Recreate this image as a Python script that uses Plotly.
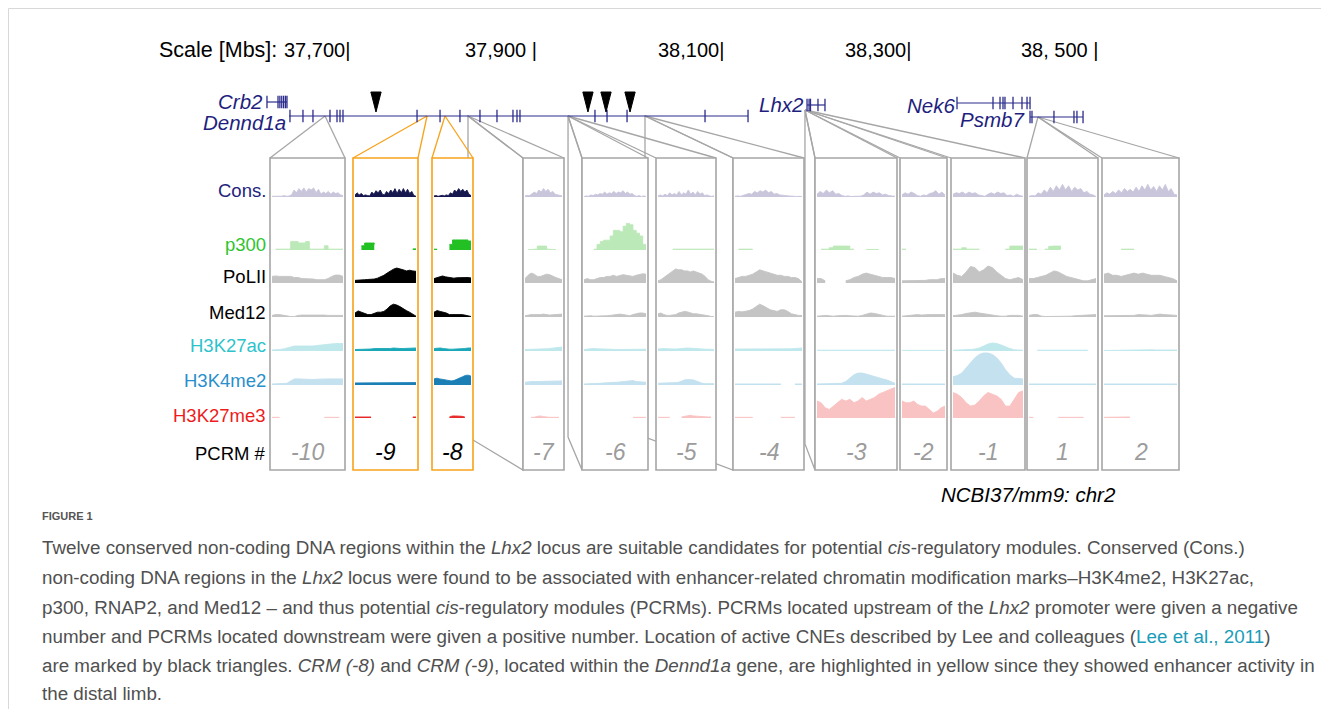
import plotly.graph_objects as go

W, H = 1329, 709

# ---------------- data ----------------
SCALE_TICKS_KB = [37700, 37900, 38100, 38300, 38500]
SCALE_TICK_LABELS = ["37,700|", "37,900 |", "38,100|", "38,300|", "38, 500 |"]

DENND1A_SPAN = [37634.8, 38125.7]
DENND1A_EXONS = [37635.8, 37649.7, 37660.4, 37678.6, 37686.1, 37689.3, 37692.5, 37771.7,
                 37796.3, 37817.6, 37839.0, 37857.2, 37874.3, 37878.6, 37881.8, 37962.0,
                 37974.9, 37996.3, 38079.7, 38125.7]
CRB2_SPAN = [37611.2, 37632.6]
CRB2_EXONS = [37611.2, 37623.0, 37625.0, 37627.0, 37629.0, 37631.0, 37632.6]
LHX2_SPAN = [38188.8, 38208.0]
LHX2_EXONS = [38188.8, 38191.0, 38192.5, 38200.5, 38208.0]
NEK6_SPAN = [38349.2, 38427.3]
NEK6_EXONS = [38349.2, 38387.7, 38395.2, 38398.4, 38400.5, 38409.1, 38418.7, 38424.1, 38427.3]
PSMB7_SPAN = [38427.3, 38484.0]
PSMB7_EXONS = [38427.3, 38429.4, 38452.9, 38474.3, 38477.5, 38484.0]
CNE_TRIANGLES_KB = [37727.8, 37954.5, 37973.8, 37999.5]

GENE_NAMES = ["Crb2", "Dennd1a", "Lhx2", "Nek6", "Psmb7"]
GENE_LABEL_KB = [37609.0, 37634.0, 38188.0, 38349.0, 38424.0]

PCRM_LABELS = ["-10", "-9", "-8", "-7", "-6", "-5", "-4", "-3", "-2", "-1", "1", "2"]
PCRM_ANCHOR_KB = [37673.3, 37782.4, 37801.6, 37826.2, 37933.2, 37933.2, 38015.5,
                  38186.6, 38186.6, 38186.6, 38435.8, 38435.8]
HIGHLIGHTED = ["-9", "-8"]

TRACK_NAMES = ["Cons.", "p300", "PoLII", "Med12", "H3K27ac", "H3K4me2", "H3K27me3"]

CONS = [
    [0.5, 0.5, 0.6, 0.4, 0.6, 1, 0.5, 0.8, 1.5, 5, 3, 6, 4, 6.5, 3.5, 6, 5, 6.5, 3, 5.5, 2, 3.5, 2.5, 4, 2, 3.5, 2.5, 3, 1.5, 1],
    [1.5, 3, 1.5, 2.5, 1, 1.5, 1, 0.8, 3.5, 2, 4.5, 3, 5, 2, 1.5, 4, 2.5, 5, 3, 6, 2.5, 5.5, 3, 6, 3, 5.5, 2.5, 4, 1, 0.5],
    [0.8, 1, 0.5, 0.8, 1.2, 0.8, 1.5, 1, 3, 2, 5, 3.5, 6, 4, 5.5, 3.5, 5, 2, 1],
    [0.8, 1.2, 1, 2, 3.5, 2.5, 5, 3.5, 6, 4, 5.5, 3, 4, 2, 1.5, 1, 0.8],
    [0.3, 0.8, 0.5, 1.5, 1, 2, 1.5, 2.5, 2, 3.5, 2, 3, 2.5, 4, 2.5, 3.5, 3, 4.5, 2.5, 3.5, 2, 2.5, 1, 0.5, 1, 0.3, 0.8, 0.3],
    [0.8, 1.5, 0.8, 2, 1, 3, 1.5, 2.5, 1.5, 4, 1.5, 3, 2, 5, 2, 3.5, 1.5, 4, 2, 3, 1, 1.5, 0.8, 0.5, 0.8],
    [0.5, 0.8, 0.5, 1, 1.5, 2.5, 2, 4, 3, 4.5, 3.5, 5, 3, 4, 2, 2.5, 1.5, 1.5, 1, 0.8, 0.5, 0.6, 0.4, 0.5, 0.3],
    [2, 4, 2.5, 5, 3, 4.5, 2, 2.5, 1, 0.5, 0.8, 0.3, 0.5, 0.3, 0.6, 1.5, 3.5, 2, 3.5, 2.5, 3, 1.5, 2, 1, 0.8, 0.5],
    [1.5, 3, 2, 3.5, 2.5, 1, 0.5, 1.5, 1, 2.5, 3, 4.5, 2, 3.5, 1.5],
    [2, 3, 2.5, 3.5, 2, 3.5, 2.5, 3, 1.5, 1, 0.5, 2, 3, 2, 3.5, 2.5, 3, 1, 1.5, 0.5, 2, 1, 0.5],
    [0.5, 1, 0.8, 3, 2, 5, 3, 7, 4, 8, 5, 9, 5, 8, 4, 7, 5, 6, 3, 4, 2, 1.5, 0.3],
    [1.5, 3, 2, 4, 2.5, 5, 3, 6, 4, 5.5, 3.5, 7, 4, 8, 5, 9, 5, 7.5, 4, 8, 5, 9, 4, 6, 2, 1.5],
]
P300 = [
    [None, 0.3, 0.3, 0.3, 0.3, 3, 3, 2.5, 2.5, 3, 0.3, 0.3, 0.3, 0.3, 1.5, 0.3, 0.3, 0.3, 0.3, 0.3],
    [None, None, 1.5, 2.5, 2.5, 2.5, 2, None, None, None, None, None, None, None, None, None, None, None, 0.4, 0.4],
    [0.3, 0.3, None, None, None, 2, 3.6, 3.6, 3.6, 3.6, 3.6, 3.2, 3],
    [None, 0.2, 0.2, 0.3, 1.4, 1.4, 1.4, 0.3, 0.2, 0.2, 0.2, None, None],
    [None, None, None, 0.3, 2, 3, 3.5, 3.5, 5, 7, 7, 6.5, 8.5, 9.5, 9, 7, 6, 5, 2, 0.5],
    [None, None, None, None, None, 0.3, 0.3, 0.3, 0.3, 0.3, 0.3, 0.3, 0.3, 0.3, 0.3, 0.3, 0.3, 0.3, 0.3, 0.3],
    [None, 0.3, 0.3, 0.3, 0.3, 0.3, None, None, None, None, None, None, None, None, None, None, None, None, None, None],
    [None, 0.3, 0.3, 0.8, 1.4, 1.4, 1.4, 1.4, 0.3, 0.3, None, None, 0.2, 0.2, 0.2, 0.2, None, None, None, None],
    [0.3, 0.3, None, None, None, None, None, None, None, None, None, None],
    [0.3, 0.3, 0.8, 0.3, 0.3, 0.3, 0.3, None, None, None, None, None, 0.3, 1.4, 1.4, 1.4, 0.3],
    [0.3, 0.3, 0.3, None, 0.3, 1.3, 1.4, 1.4, 0.3, None, None, None, None, None, None, None, None, None],
    [None, None, None, None, 0.3, 0.3, 0.3, 0.3, None, None, None, None, None, None, None, None, None, None],
]
POLII = [
    [3, 3.2, 3, 3, 2.8, 3, 2.5, 2.5, 2, 2, 1.8, 1.8, 1.5, 1.5, 1.5, 2, 3, 3.6, 3.6, 3],
    [1.2, 1.4, 1.4, 1.5, 1.6, 1.6, 1.8, 2.2, 2.8, 3.5, 4.5, 5.5, 6.3, 6.8, 6.5, 6, 5.5, 5.8, 5.5, 5.3],
    [2, 2.5, 3, 3.2, 2.8, 2.5, 2.5, 2.2, 2.4, 2.5, 2.6, 2.5, 2.5, 2.3],
    [2, 3.5, 4.5, 4, 3, 3, 3.5, 4, 3.8, 3, 2.5, 2, 1.5],
    [1.5, 2, 1.5, 1.5, 2, 2.5, 2.5, 3, 3, 3.5, 3, 3.5, 3.8, 3.5, 3.2, 3, 3.5, 4, 4.2, 4],
    [1, 1.5, 2.5, 3.5, 4.5, 5.5, 6.4, 6, 6, 5.5, 5.5, 5, 5.5, 5, 4.5, 4, 3, 1.5, 0.8, 0.5],
    [2, 2.5, 3, 3, 3.5, 4, 5, 6, 5.5, 5, 4.5, 4, 3.5, 3.5, 3, 3, 2.5, 2.5, 2, 0.5],
    [2, 2, 1, None, None, None, None, 1, 1.5, 2.5, 3, 4, 4.5, 4, 3.5, 3, 2.5, 2.5, 2.5, 2],
    [1, 1, 1, 1.2, 1.2, 1, 1.2, 1.5, 1.5, 1.5, 2, 2],
    [4.5, 3.5, 3, 5, 7.5, 7, 5, 6, 7.7, 7, 5, 3.5, 2, 1.5, 2, 2.5, 1.5],
    [2, 2, 2.5, 3, 3.5, 4.5, 5.5, 5, 4, 3, 2.5, 2, 1.5, 1, 1, 1.5, 2],
    [4, 4.5, 3.5, 3.5, 3, 3.5, 4, 4.5, 4, 4.5, 4, 3.5, 3.5, 3.5, 3, 2.5, 2, 1],
]
MED12 = [
    [1, 1.5, 1.5, 1, 0.5, 0.3, 0.3, 1, 1.2, 1.2, 1.5, 1.5, 1.5, 1.5, 1.2, 1, 1, 0.8, 1, 1],
    [2.5, 3.8, 3, 2, 1.5, 1.5, 2.5, 3, 3, 3.5, 5, 7, 8, 7.5, 6.5, 5, 4, 3, 1.5, 0.5],
    [3, 4, 3.5, 3, 2.5, 1.5, 1.5, 1.8, 1.8, 1.5, 1.2, 0.8, 0.3],
    [0.8, 1.2, 1.5, 1.5, 1.3, 1.5, 1.8, 1.4, 1.2, 1.4, 1.6, 1.8, 1.8],
    [0.5, 0.8, 0.8, 0.5, 0.5, 0.5, 0.6, 0.8, 1, 1.2, 1.5, 1.8, 1.5, 1, 0.8, 1.5, 2.2, 2.5, 2.5, 2],
    [2, 2.5, 1.5, 1, 1, 1.2, 1.5, 2.5, 3, 3.5, 3.2, 2.5, 2, 2, 1.8, 1.5, 1.2, 0.8, 0.3, 0.2],
    [3, 3.5, 3.2, 3.5, 4, 5, 6.5, 8, 7, 5.5, 4.5, 4, 3.5, 4.5, 4.5, 3.5, 2, 1.5, 1, 1],
    [0.5, 0.8, 1, 0.8, 0.5, 0.8, 1, 1, 0.8, 0.5, 0.5, 1, 2, 2.5, 2.2, 1.5, 1, 0.5, 0.5, 0.5],
    [0.5, 0.8, 1, 1.5, 1.5, 1.2, 1.5, 1.5, 1.5, 1.5, 1.5, 1.5],
    [0.8, 1, 1.5, 2.2, 2.8, 3, 2.5, 2, 1.5, 1, 0.8, 0.5, 0.5, 1, 1.2, 1, 0.5],
    [1, 1.5, 1.5, 0.5, 0.3, 0.3, 0.3, 0.3, 0.3, 0.3, 0.5, 0.8, 1, 1, 1.2, 1.5, 1.5],
    [0.8, 0.8, 1, 1, 1.2, 1, 1, 1, 1.5, 1.5, 1.2, 1, 1.5, 1.8, 1.5, 1.2, 1, 1],
]
H3K27AC = [
    [1, 1, 1.5, 2, 3, 4, 5, 5, 5, 4.5, 4.5, 5, 5.5, 6, 6, 6.5, 7, 7.5, 7.5, 7.5],
    [1.5, 1.5, 1.5, 2, 2, 2, 2.5, 2.5, 2, 2, 2, 2.5, 3, 2.5, 2.5, 2.5, 2.5, 2.5, 3, 3],
    [2.5, 3, 3, 2.5, 2, 1.8, 1.8, 1.8, 2, 2.2, 2.5, 3, 3],
    [1.5, 1.5, 1.5, 1.8, 2, 2.2, 2, 2.2, 2.5, 3, 3.5, 4, 4],
    [1.5, 2, 2.5, 2.5, 2.2, 2, 1.8, 1.5, 1.5, 1.5, 1.5, 1.5, 1.6, 1.8, 1.8, 1.6, 1.6, 1.8, 1.8, 1.8],
    [2, 2.5, 2.5, 2.2, 2, 2, 2, 2.2, 2.5, 3, 3, 2.8, 2.5, 2.2, 2, 1.8, 1.8, 1.8, 1.6, 1.6],
    [2, 2, 2, 2, 2, 1.8, 1.6, 1.5, 1.5, 1.5, 1.8, 2, 2, 1.8, 1.8, 2, 2.2, 2.5, 3, 3],
    [0.8, 0.8, 0.8, 0.8, 0.8, 0.9, 0.8, 0.8, 0.8, 0.8, 0.8, 0.8, 0.8, 0.9, 0.8, 0.8, 0.8, 0.8, 0.8, 0.8],
    [0.6, 0.6, 0.6, 0.6, 0.6, 0.6, 0.6, 0.6, 0.6, 0.6, 0.6, 0.6],
    [0.8, 0.8, 0.8, 1, 1.5, 2, 3, 5, 7, 8, 7.5, 6, 4, 2.5, 1.2, 0.8, 0.8],
    [None, None, 0.8, 0.8, 0.8, 0.8, 0.8, 0.8, 0.8, 0.8, 0.8, 0.8, 0.8, 0.8, 0.8, None, None],
    [0.5, 0.6, 0.8, 0.8, 1, 1, 1, 1.2, 1, 1, 1, 1.2, 1, 1, 1, 1, 1, 1],
]
H3K4ME2 = [
    [0.3, 0.3, 0.3, 0.5, 0.5, 1.2, 1.8, 1.8, 1.7, 1.6, 1.6, 1.6, 1.7, 1.8, 1.8, 1.8, 1.8, 1.8, 1.8, 1.8],
    [0.6, 0.6, 0.6, 0.7, 0.7, 0.7, 0.8, 0.8, 0.7, 0.7, 0.7, 0.8, 0.8, 0.7, 0.7, 0.7, 0.6, 0.6, 0.6, 0.7],
    [1.8, 2, 1.8, 1.6, 1.4, 1.2, 1.2, 1.3, 1.6, 2, 2.4, 2.8, 2.9, 2.6],
    [0.8, 1, 1, 1, 1, 1, 1, 1, 1.1, 1.1, 1.2, 1.2, 1.2],
    [0.3, 0.3, 0.3, 0.4, 0.5, 0.5, 0.6, 0.6, 0.7, 0.8, 0.8, 0.9, 1, 1.2, 1.4, 1.3, 1, 0.9, 0.8, 0.8],
    [0.5, 0.5, 0.5, 0.5, 0.5, 0.6, 0.7, 0.8, 1.2, 1.5, 1.6, 1.6, 1.5, 1.2, 0.8, 0.5, 0.4, 0.4, 0.4, 0.4],
    [0.3, 0.3, 0.3, 0.3, 0.3, 0.3, 0.3, 0.3, 0.3, 0.3, 0.3, 0.3, 0.3, 0.3, None, None, None, 0.3, 0.3, 0.3],
    [0.3, 0.3, 0.3, 0.3, 0.3, 0.3, 0.5, 1, 2, 3, 3.5, 3.5, 3.2, 2.8, 2.5, 2.2, 1.8, 1.5, 1, 0.5],
    [0.3, 0.3, 0.3, 0.3, 0.3, 0.3, 0.3, 0.3, 0.3, 0.3, 0.3, 0.3],
    [2.4, 2.8, 3.5, 5, 6.5, 8, 9, 9.4, 9.4, 9, 8, 6.5, 4.5, 3, 2, 2, 1.8],
    [0.3, 0.3, 0.3, 0.3, 0.3, 0.3, 0.3, 0.4, 0.3, 0.3, 0.3, 0.3, 0.3, 0.3, 0.4, 0.4, 0.3],
    [0.3, 0.3, 0.3, 0.3, 0.3, 0.3, 0.3, 0.3, 0.3, 0.3, 0.3, 0.3, 0.3, 0.3, 0.3, 0.3, 0.3, 0.3],
]
H3K27ME3 = [
    [0.2, 0.2, 0.2, None, None, None, None, None, None, None, None, None, None, None, 0.2, 0.2, 0.2, 0.2, 0.2, None],
    [0.3, 0.3, 0.3, 0.3, 0.3, 0.3, None, None, None, None, None, None, None, None, None, None, None, None, 0.3, 0.3],
    [None, None, None, None, None, 0.3, 0.6, 0.6, 0.6, 0.5, 0.3, None, None],
    [None, None, 0.2, 0.2, 0.5, 0.6, 0.4, 0.2, 0.2, 0.2, 0.2, 0.2, None],
    [None, None, None, None, None, None, None, None, None, None, None, None, None, None, None, 0.2, 0.2, 0.2, 0.2, 0.2],
    [0.2, 0.2, 0.2, 0.2, 0.2, None, None, None, 0.3, 0.4, 0.6, 0.8, 0.6, 0.5, 0.4, 0.3, 0.3, 0.3, 0.3, None],
    [0.2, 0.2, 0.2, 0.2, 0.2, 0.2, None, None, None, None, None, None, None, 0.2, 0.2, 0.2, 0.2, 0.2, None, None],
    [5, 4.5, 3, 2.5, 3.5, 4.5, 5.5, 5, 5.5, 4.5, 5, 6, 5, 5.5, 6, 7, 7.5, 8, 8.5, 9],
    [5, 4.5, 4.5, 5, 4, 3.5, 3.5, 2.5, 1.5, 2, 3, 3.5],
    [7.5, 7, 6, 4.5, 3.5, 3.8, 5, 6.5, 7.5, 7, 6.5, 5.5, 3.5, 3.5, 5.5, 7.5, 8],
    [0.2, 0.2, None, None, None, None, None, 0.2, 0.2, 0.2, 0.2, 0.2, 0.2, 0.2, None, None, None],
    [0.2, 0.2, 0.3, 0.3, 0.3, 0.4, 0.3, None, None, None, None, None, None, None, None, None, None, None],
]
TRACKS = [CONS, P300, POLII, MED12, H3K27AC, H3K4ME2, H3K27ME3]

CAPTION_LINES = [
    "Twelve conserved non-coding DNA regions within the <i>Lhx2</i> locus are suitable candidates for potential <i>cis</i>-regulatory modules. Conserved (Cons.)",
    "non-coding DNA regions in the <i>Lhx2</i> locus were found to be associated with enhancer-related chromatin modification marks\u2013H3K4me2, H3K27ac,",
    "p300, RNAP2, and Med12 \u2013 and thus potential <i>cis</i>-regulatory modules (PCRMs). PCRMs located upstream of the <i>Lhx2</i> promoter were given a negative",
    "number and PCRMs located downstream were given a positive number. Location of active CNEs described by Lee and colleagues (<span style=\"color:#1a9db8\">Lee et al., 2011</span>)",
    "are marked by black triangles. <i>CRM (-8)</i> and <i>CRM (-9)</i>, located within the <i>Dennd1a</i> gene, are highlighted in yellow since they showed enhancer activity in",
    "the distal limb.",
]

# ---------------- layout / style constants ----------------
OFF = 8  # page offset of the figure inside the browser page
PX_PER_KB = 0.935
KB_LEFT = 37700 - (350 - OFF) / PX_PER_KB
KB_RIGHT = KB_LEFT + W / PX_PER_KB

PANEL_LEFT = [270, 353, 432, 523, 582, 656, 733, 815, 900, 951, 1027, 1102]
PANEL_RIGHT = [345, 418, 473, 564, 648, 716, 804, 897, 947, 1025, 1098, 1179]
ANCHOR_Y = [116, 116, 116, 116, 116, 116, 116, 110, 110, 110, 117, 117]
SIDE_FACE = {"-7": 437, "-6": 437, "-4": 437, "-3": 444}
BOX_TOP, BOX_BOTTOM = 158, 470

TRACK_BASE = [197, 250, 283, 317, 351, 385, 418]
TRACK_HEIGHT = [14, 28, 22, 16, 10, 34, 34]
TRACK_FULL = ["#17174f", "#22c022", "#000000", "#000000", "#1aa8b8", "#1b7fb6", "#e82a2a"]
TRACK_FADED = ["#c9c6dc", "#bce9b8", "#c4c4c4", "#c4c4c4", "#bfe8ec", "#c3e1ee", "#f9c3c3"]
TRACK_LABEL_COLOR = ["#23237d", "#2fc42f", "#000000", "#000000", "#2ec3cc", "#2a8fca", "#ee1c1c"]
TRACK_LABEL_Y = [190, 245, 276, 312, 346, 381, 415]

GENE_COLOR = "#2b2b8c"
GENE_TEXT = "#1f1f80"
GRAY = "#a6a6a6"
ORANGE = "#f7a21b"
SANS = "Liberation Sans, Arial, sans-serif"
TRI_HALF_KB = 5.5
TRI_TOP, TRI_TIP = 92, 112


def px(x):
    return (x - OFF) / W


def py(y):
    return 1 - (y - OFF) / H


def kb_px(kb):
    return OFF + (kb - KB_LEFT) * PX_PER_KB


fig = go.Figure()

# ---------------- gene track (genomic x axis) ----------------
def gene(span, exons, y):
    fig.add_trace(go.Scatter(x=span, y=[y, y], mode="lines",
                             line=dict(color=GENE_COLOR, width=1.2),
                             hoverinfo="skip", showlegend=False))
    fig.add_trace(go.Scatter(x=exons, y=[y] * len(exons), mode="markers",
                             marker=dict(symbol="line-ns", size=9,
                                         line=dict(color=GENE_COLOR, width=1.3)),
                             hoverinfo="skip", showlegend=False))


gene(DENND1A_SPAN, DENND1A_EXONS, 116)
gene(CRB2_SPAN, CRB2_EXONS, 102)
gene(LHX2_SPAN, LHX2_EXONS, 105)
gene(NEK6_SPAN, NEK6_EXONS, 103)
gene(PSMB7_SPAN, PSMB7_EXONS, 117)

tx, ty = [], []
for kb in CNE_TRIANGLES_KB:
    tx += [kb - TRI_HALF_KB, kb + TRI_HALF_KB, kb, kb - TRI_HALF_KB, None]
    ty += [TRI_TOP, TRI_TOP, TRI_TIP, TRI_TOP, None]
fig.add_trace(go.Scatter(x=tx, y=ty, mode="lines", fill="toself", fillcolor="black",
                         line=dict(color="black", width=1), hoverinfo="skip", showlegend=False))

# ---------------- panel boxes and connectors (shapes, back to front) ----------------
shapes = []
for i in reversed(range(len(PCRM_LABELS))):
    lab = PCRM_LABELS[i]
    col = ORANGE if lab in HIGHLIGHTED else GRAY
    ax = kb_px(PCRM_ANCHOR_KB[i])
    ay = ANCHOR_Y[i]
    L, R = PANEL_LEFT[i], PANEL_RIGHT[i]
    if lab in SIDE_FACE:
        sy = SIDE_FACE[lab]
        path = "M{},{} L{},{} L{},{} L{},{} Z".format(
            px(ax), py(ay), px(ax), py(sy), px(L), py(BOX_BOTTOM), px(L), py(BOX_TOP))
        shapes.append(dict(type="path", path=path, xref="paper", yref="paper",
                           fillcolor="white", line=dict(color=col, width=1.3), layer="below"))
    for cx in (L, R):
        shapes.append(dict(type="line", xref="paper", yref="paper",
                           x0=px(ax), y0=py(ay), x1=px(cx), y1=py(BOX_TOP),
                           line=dict(color=col, width=1.3), layer="below"))
    shapes.append(dict(type="rect", xref="paper", yref="paper",
                       x0=px(L), x1=px(R), y0=py(BOX_BOTTOM), y1=py(BOX_TOP),
                       fillcolor="white", line=dict(color=col, width=1.6), layer="below"))

# page frame
shapes.append(dict(type="line", xref="paper", yref="paper", x0=px(8.5), x1=px(8.5), y0=0, y1=py(8.5),
                   line=dict(color="#d8d8d8", width=1), layer="below"))
shapes.append(dict(type="line", xref="paper", yref="paper", x0=px(8.5), x1=1, y0=py(8.5), y1=py(8.5),
                   line=dict(color="#d8d8d8", width=1), layer="below"))

# ---------------- profiles (panel x axes x track y axes) ----------------
layout_axes = {}
for i, lab in enumerate(PCRM_LABELS):
    layout_axes["xaxis%d" % (i + 2)] = dict(domain=[px(PANEL_LEFT[i] + 2), px(PANEL_RIGHT[i] - 2)],
                                             range=[0, 1], visible=False, fixedrange=True, anchor="y")
for t in range(len(TRACK_NAMES)):
    b, h = TRACK_BASE[t], TRACK_HEIGHT[t]
    layout_axes["yaxis%d" % (t + 2)] = dict(domain=[py(b), py(b - h)], range=[0, 10],
                                             visible=False, fixedrange=True, anchor="x")


def runs(vals):
    """split a profile into contiguous (x, y) runs, breaking at None gaps"""
    n = len(vals)
    out, cx, cy = [], [], []
    for k, v in enumerate(vals):
        if v is None:
            if len(cx) > 1:
                out.append((cx, cy))
            cx, cy = [], []
        else:
            cx.append(k / (n - 1))
            cy.append(v)
    if len(cx) > 1:
        out.append((cx, cy))
    return out


for t, track in enumerate(TRACKS):
    for i, vals in enumerate(track):
        hi = PCRM_LABELS[i] in HIGHLIGHTED
        c = TRACK_FULL[t] if hi else TRACK_FADED[t]
        for xs, ys in runs(vals):
            fig.add_trace(go.Scatter(
                x=xs, y=ys, xaxis="x%d" % (i + 2), yaxis="y%d" % (t + 2),
                mode="lines", line=dict(color=c, width=0.9, shape="hv" if t == 1 else "linear"),
                fill="tozeroy", fillcolor=c,
                hoverinfo="skip", showlegend=False))

# ---------------- annotations ----------------
ann = []
ann.append(dict(text="Scale [Mbs]:", x=px(157), y=py(50), xref="paper", yref="paper",
                xanchor="left", yanchor="middle", showarrow=False,
                font=dict(family=SANS, size=21.5, color="black")))
for kb, lab in zip(SCALE_TICKS_KB, SCALE_TICK_LABELS):
    ann.append(dict(text=lab, x=kb + 2, y=py(50), xref="x", yref="paper",
                    xanchor="right", yanchor="middle", showarrow=False,
                    font=dict(family=SANS, size=20, color="black")))

GENE_LABEL_Y = [101, 123, 104, 105, 120]
for name, kb, gy in zip(GENE_NAMES, GENE_LABEL_KB, GENE_LABEL_Y):
    ann.append(dict(text="<i>%s</i>" % name, x=kb, y=py(gy), xref="x", yref="paper",
                    xanchor="right", yanchor="middle", showarrow=False,
                    font=dict(family=SANS, size=20.5, color=GENE_TEXT)))

for t, name in enumerate(TRACK_NAMES):
    ann.append(dict(text=name, x=px(268), y=py(TRACK_LABEL_Y[t]), xref="paper", yref="paper",
                    xanchor="right", yanchor="middle", showarrow=False,
                    font=dict(family=SANS, size=18.5, color=TRACK_LABEL_COLOR[t])))
ann.append(dict(text="PCRM #", x=px(268), y=py(453), xref="paper", yref="paper",
                xanchor="right", yanchor="middle", showarrow=False,
                font=dict(family=SANS, size=18.5, color="black")))

for i, lab in enumerate(PCRM_LABELS):
    hi = lab in HIGHLIGHTED
    ann.append(dict(text="<i>%s</i>" % lab, x=px((PANEL_LEFT[i] + PANEL_RIGHT[i]) / 2), y=py(452),
                    xref="paper", yref="paper", xanchor="center", yanchor="middle", showarrow=False,
                    font=dict(family=SANS, size=23, color="black" if hi else "#9c9c9c")))

ann.append(dict(text="<i>NCBI37/mm9: chr2</i>", x=px(1118), y=py(494), xref="paper", yref="paper",
                xanchor="right", yanchor="middle", showarrow=False,
                font=dict(family=SANS, size=20.5, color="black")))

ann.append(dict(text="<b>FIGURE 1</b>", x=px(40), y=py(516), xref="paper", yref="paper",
                xanchor="left", yanchor="middle", showarrow=False,
                font=dict(family=SANS, size=11, color="#555555")))
CAPTION_Y = [547, 577, 607, 636, 665, 693]
for line, cy in zip(CAPTION_LINES, CAPTION_Y):
    ann.append(dict(text=line, x=px(40), y=py(cy), xref="paper", yref="paper",
                    xanchor="left", yanchor="middle", showarrow=False,
                    font=dict(family=SANS, size=18.8, color="#505050")))

fig.update_layout(
    width=W, height=H, autosize=False,
    margin=dict(l=0, r=0, t=0, b=0, pad=0),
    paper_bgcolor="white", plot_bgcolor="rgba(0,0,0,0)",
    template="none", showlegend=False,
    xaxis=dict(range=[KB_LEFT, KB_RIGHT], domain=[0, 1], visible=False, fixedrange=True),
    yaxis=dict(range=[H + OFF, OFF], domain=[0, 1], visible=False, fixedrange=True),
    shapes=shapes, annotations=ann,
    **layout_axes,
)

fig.write_html("out.html")
